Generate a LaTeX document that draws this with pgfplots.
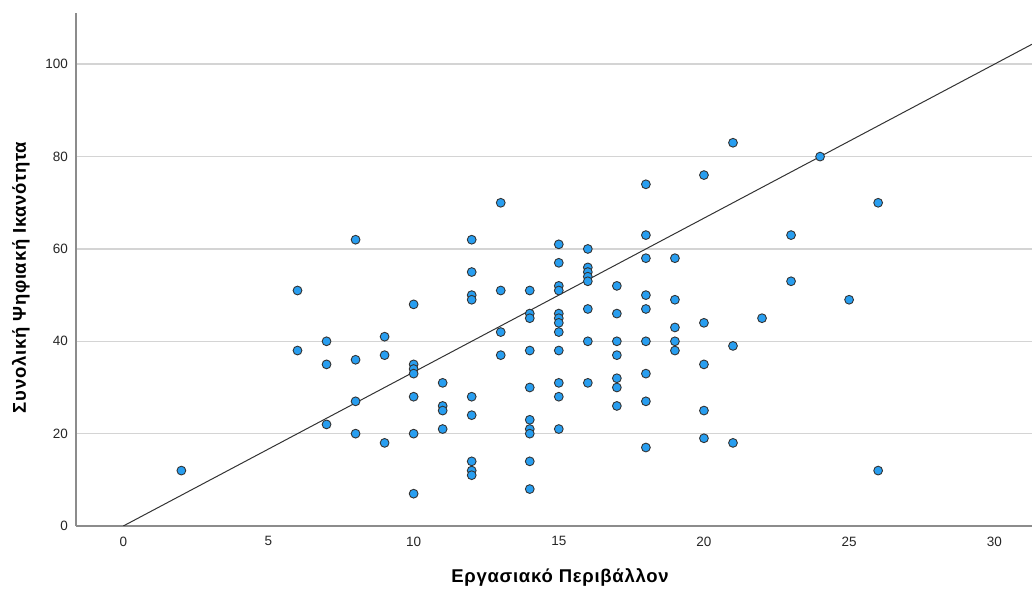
\documentclass[border=0pt]{standalone}
\usepackage{fontspec}
\setmainfont{Liberation Sans}
\newfontfamily\labfont[LetterSpace=4]{Liberation Sans}
\usepackage{pgfplots}
\pgfplotsset{compat=1.18}
\definecolor{mk}{RGB}{40,158,240}
\definecolor{gridc}{RGB}{212,212,212}
\definecolor{axc}{RGB}{140,140,140}
\begin{document}
\begin{tikzpicture}
\useasboundingbox (0,0) rectangle (1032bp,589bp);
\begin{axis}[
 at={(76bp,63bp)}, anchor=south west,
 scale only axis, width=956bp, height=513bp,
 xmin=-1.63, xmax=31.3, ymin=0, ymax=111.1,
 axis x line*=bottom, axis y line*=left,
 axis line style={-, draw=axc, line width=1.5bp},
 xtick={0,5,...,30}, ytick={0,20,...,100},
 major tick length=0pt,
 ymajorgrids, grid style={draw=gridc, line width=1.5bp},
 /pgf/number format/assume math mode=true,
 tick label style={font=\fontsize{13.5bp}{15bp}\selectfont, text=black!85},
 xticklabel style={inner sep=0pt, anchor=north, yshift=-10.5bp},
 yticklabel style={inner sep=0pt, anchor=east, xshift=-8bp},
 xlabel={Εργασιακό Περιβάλλον},
 ylabel={Συνολική Ψηφιακή Ικανότητα},
 label style={font=\labfont\bfseries\fontsize{18.5bp}{20bp}\selectfont, inner sep=0pt},
 xlabel style={at={(axis description cs:0.5063,-0.1105)}, anchor=base},
 ylabel style={at={(axis description cs:-0.0523,0.4844)}, anchor=base, rotate=0},
 clip=true,
]
\addplot[only marks, mark=*, mark size=4.4bp, mark options={fill=mk, draw=black!80, line width=0.9bp}] coordinates {
(2,12)
(6,51) (6,38)
(7,40) (7,35) (7,22)
(8,62) (8,36) (8,27) (8,20)
(9,41) (9,37) (9,18)
(10,48) (10,35) (10,34) (10,33) (10,28) (10,20) (10,7)
(11,31) (11,26) (11,25) (11,21)
(12,62) (12,55) (12,50) (12,49) (12,28) (12,24) (12,14) (12,12) (12,11)
(13,70) (13,51) (13,42) (13,37)
(14,51) (14,46) (14,45) (14,38) (14,30) (14,23) (14,21) (14,20) (14,14) (14,8)
(15,61) (15,57) (15,52) (15,51) (15,46) (15,45) (15,44) (15,42) (15,38) (15,31) (15,28) (15,21)
(16,60) (16,56) (16,55) (16,54) (16,53) (16,47) (16,40) (16,31)
(17,52) (17,46) (17,40) (17,37) (17,32) (17,30) (17,26)
(18,74) (18,63) (18,58) (18,50) (18,47) (18,40) (18,33) (18,27) (18,17)
(19,58) (19,49) (19,43) (19,40) (19,38)
(20,76) (20,44) (20,35) (20,25) (20,19)
(21,83) (21,39) (21,18)
(22,45)
(23,63) (23,53)
(24,80)
(25,49)
(26,70) (26,12)
};
\addplot[black!80, line width=1bp] coordinates {(0,0) (31.3,104.33)};
\end{axis}
\end{tikzpicture}
\end{document}
